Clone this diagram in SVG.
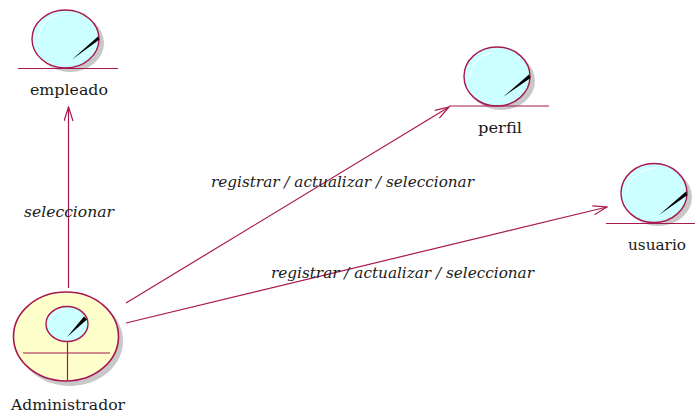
<svg xmlns="http://www.w3.org/2000/svg" width="695" height="414" viewBox="0 0 695 414">
<style>
.shadow{fill:#c8c8c8}
.ball{fill:#ccffff;stroke:#a8174f;stroke-width:1.4}
.actor{fill:#ffffcc;stroke:#a8174f;stroke-width:1.6}
.ln{stroke:#a8174f;stroke-width:1.2;fill:none}
.hl{stroke:#fff;stroke-width:1;fill:none}
.needle{fill:#000}
.lbl{font-family:"DejaVu Serif","Liberation Serif",serif;font-size:14px;fill:#1a1a1a;text-anchor:start}
.it{font-style:italic}
</style>
<defs>
<marker id="arr" viewBox="0 0 16 10" refX="15" refY="5" markerWidth="16" markerHeight="10" markerUnits="userSpaceOnUse" orient="auto"><path d="M1 0.500L15 5L1 9.500" fill="none" stroke="#a8174f" stroke-width="1.2"/></marker>
</defs>
<g id="connectors">
<path class="ln" marker-end="url(#arr)" d="M68.500 288V107"/>
<path class="ln" marker-end="url(#arr)" d="M126 303L449 107"/>
<path class="ln" marker-end="url(#arr)" d="M126 323L607 207"/>
<text class="lbl it" x="24" y="217" textLength="90" lengthAdjust="spacingAndGlyphs">seleccionar</text>
<text class="lbl it" x="211" y="187" textLength="263" lengthAdjust="spacingAndGlyphs">registrar / actualizar / seleccionar</text>
<text class="lbl it" x="271" y="278" textLength="263" lengthAdjust="spacingAndGlyphs">registrar / actualizar / seleccionar</text>
</g>
<g id="empleado">
<ellipse class="shadow" cx="70" cy="43" rx="34" ry="29"/>
<ellipse class="ball" cx="65.500" cy="39" rx="33.500" ry="29"/>
<path class="hl" d="M38 39Q40 20 58 15"/>
<path class="needle" d="M72 59.500L98 36.500L99.500 39.500Z"/>
<path class="ln" d="M18 68.500H118"/>
<text class="lbl" x="30" y="95" textLength="78" lengthAdjust="spacingAndGlyphs">empleado</text>
</g>
<g id="perfil">
<ellipse class="shadow" cx="501" cy="81" rx="34" ry="29"/>
<ellipse class="ball" cx="497" cy="76.500" rx="33" ry="29.500"/>
<path class="hl" d="M470 76Q472 58 490 53"/>
<path class="needle" d="M503 97L529 74.500L530.500 78Z"/>
<path class="ln" d="M449 106H549"/>
<text class="lbl" x="478" y="133" textLength="44" lengthAdjust="spacingAndGlyphs">perfil</text>
</g>
<g id="usuario">
<ellipse class="shadow" cx="658" cy="197" rx="34" ry="29"/>
<ellipse class="ball" cx="654" cy="193" rx="33" ry="29.500"/>
<path class="hl" d="M627 193Q629 172 654 168"/>
<path class="needle" d="M659 215L686 191.500L687.500 195Z"/>
<path class="ln" d="M606 223.500H695"/>
<text class="lbl" x="628" y="250" textLength="58" lengthAdjust="spacingAndGlyphs">usuario</text>
</g>
<g id="Administrador">
<ellipse class="shadow" cx="70" cy="341" rx="53" ry="45"/>
<ellipse class="actor" cx="66" cy="336.500" rx="52.500" ry="44.500"/>
<ellipse class="ball" cx="67" cy="324" rx="21" ry="17.500"/>
<path class="hl" d="M50 322Q52 312 64 309"/>
<path class="needle" d="M67 337L84 316.500L87 319.500Z"/>
<path class="ln" d="M23 353H110M67.500 342V380"/>
<text class="lbl" x="11" y="410" textLength="114" lengthAdjust="spacingAndGlyphs">Administrador</text>
</g>
</svg>
